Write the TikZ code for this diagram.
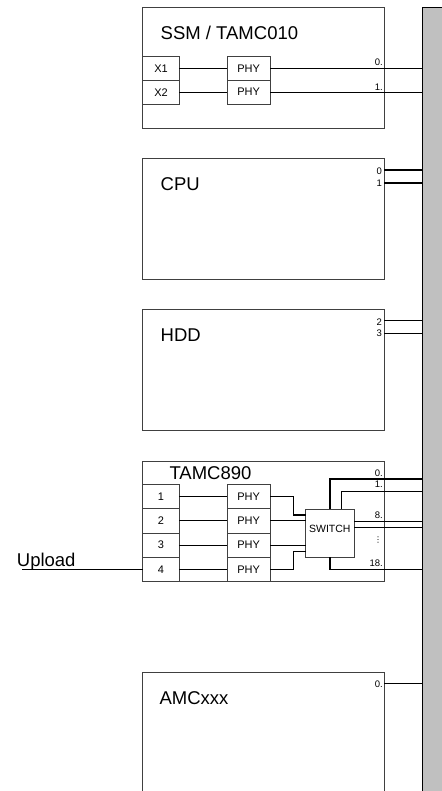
\documentclass[tikz,border=0pt]{standalone}
\usepackage{fontspec}
\setmainfont{Liberation Sans}
\newfontfamily\dejavu{DejaVu Sans}
\begin{document}
\begin{tikzpicture}[x=1bp,y=-1bp,
  box/.style={draw=black!75, line width=0.9bp, anchor=north west, inner sep=0pt, outer sep=0pt},
  wire/.style={draw=black, line width=1.1bp},
  title/.style={anchor=base west, inner sep=0pt, font=\fontsize{18.5bp}{20bp}\selectfont},
  small/.style={font=\fontsize{11bp}{12bp}\selectfont},
  portnum/.style={anchor=base east, inner sep=0pt, font=\fontsize{9.5bp}{10bp}\selectfont},
]
\useasboundingbox (0,0) rectangle (442,791);
% bus
\node[box, draw=black, fill={rgb,255:red,192;green,192;blue,192}, minimum width=25bp, minimum height=800bp] (bus) at (422,7.3) {};
% SSM
\node[box, minimum width=241.3bp, minimum height=120.7bp] (ssm) at (142.7,7.3) {};
\node[title] (tssm) at (160.5,39.3) {SSM / TAMC010};
\node[box, small, minimum width=36.6bp, minimum height=23.65bp] (x1) at (142.7,56.7) {X1};
\node[box, small, minimum width=36.6bp, minimum height=23.65bp] (x2) at (142.7,80.35) {X2};
\node[box, small, minimum width=42.7bp, minimum height=23.65bp] (phy1) at (227.3,56.7) {PHY};
\node[box, small, minimum width=42.7bp, minimum height=23.65bp] (phy2) at (227.3,80.35) {PHY};
\draw[wire] (x1.east) -- (phy1.west);
\draw[wire] (x2.east) -- (phy2.west);
\draw[wire] (phy1.east) -- (phy1.east -| bus.west);
\draw[wire] (phy2.east) -- (phy2.east -| bus.west);
\node[portnum] (n0a) at (383,65.7) {0.};
\node[portnum] (n1a) at (383,90) {1.};
% CPU
\node[box, minimum width=241.3bp, minimum height=121bp] (cpu) at (142.7,158.3) {};
\node[title] (tcpu) at (160.5,190.7) {CPU};
\coordinate (c0) at (384,170);
\coordinate (c1) at (384,183);
\draw[wire] (c0) -- (c0 -| bus.west);
\draw[wire] (c1) -- (c1 -| bus.west);
\node[portnum] (n0b) at (382,174) {0};
\node[portnum] (n1b) at (382,186.3) {1};
% HDD
\node[box, minimum width=241.3bp, minimum height=120.7bp] (hdd) at (142.7,309.3) {};
\node[title] (thdd) at (160.5,341.7) {HDD};
\coordinate (h2) at (384,320.7);
\coordinate (h3) at (384,333.7);
\draw[wire] (h2) -- (h2 -| bus.west);
\draw[wire] (h3) -- (h3 -| bus.west);
\node[portnum] (n2c) at (382,325) {2};
\node[portnum] (n3c) at (382,336.7) {3};
% TAMC890
\node[box, minimum width=241.3bp, minimum height=120.7bp] (tamc) at (142.7,461) {};
\node[title] (ttamc) at (169.3,479.3) {TAMC890};
\foreach \i/\y in {1/484.3,2/508.65,3/533,4/557.35}{
  \node[box, small, minimum width=36.6bp, minimum height=24.35bp] (p\i) at (142.7,\y) {\i};
  \node[box, small, minimum width=42.7bp, minimum height=24.35bp] (tphy\i) at (227.3,\y) {PHY};
  \draw[wire] (p\i.east) -- (tphy\i.west);
}
\node[box, minimum width=48.3bp, minimum height=48bp] (sw) at (305.7,509.3) {};
\node[anchor=base, inner sep=0pt, font=\fontsize{10.5bp}{12bp}\selectfont] (tsw) at (329.8,532.3) {SWITCH};
\coordinate (j1) at (293.3,515);
\coordinate (j4) at (293.3,551.7);
\draw[wire] (tphy1.east) -| (j1) -- (j1 -| sw.west);
\draw[wire] (tphy2.east) -- (tphy2.east -| sw.west);
\draw[wire] (tphy3.east) -- (tphy3.east -| sw.west);
\draw[wire] (tphy4.east) -| (j4) -- (j4 -| sw.west);
\coordinate (s0) at (330,479);
\coordinate (s1) at (341.7,491.3);
\coordinate (s8) at (354,521.7);
\coordinate (s9) at (354,527.3);
\coordinate (s18) at (330,569.3);
\draw[wire] (s0 |- sw.north) -- (s0) -- (s0 -| bus.west);
\draw[wire] (s1 |- sw.north) -- (s1) -- (s1 -| bus.west);
\draw[wire] (s8) -- (s8 -| bus.west);
\draw[wire] (s9) -- (s9 -| bus.west);
\draw[wire] (s18 |- sw.south) -- (s18) -- (s18 -| bus.west);
\node[portnum] (n0d) at (383,476) {0.};
\node[portnum] (n1d) at (383,487.3) {1.};
\node[portnum] (n8d) at (383,518) {8.};
\node[inner sep=0pt, font=\dejavu\fontsize{8bp}{9bp}\selectfont] (ndots) at (378,540) {⋮};
\node[portnum] (n18d) at (383,566.7) {18.};
% Upload
\node[anchor=base west, inner sep=0pt, font=\fontsize{18.5bp}{20bp}\selectfont] (tup) at (16.7,566.7) {Upload};
\coordinate (up) at (22,569.5);
\draw[wire] (up) -- (up -| p4.west);
% AMC
\node[box, minimum width=241.3bp, minimum height=140bp] (amc) at (142.7,672.7) {};
\node[title] (tamcx) at (159.3,704) {AMCxxx};
\coordinate (a0) at (384,683.3);
\draw[wire] (a0) -- (a0 -| bus.west);
\node[portnum] (n0e) at (383,687.3) {0.};
\end{tikzpicture}
\end{document}
